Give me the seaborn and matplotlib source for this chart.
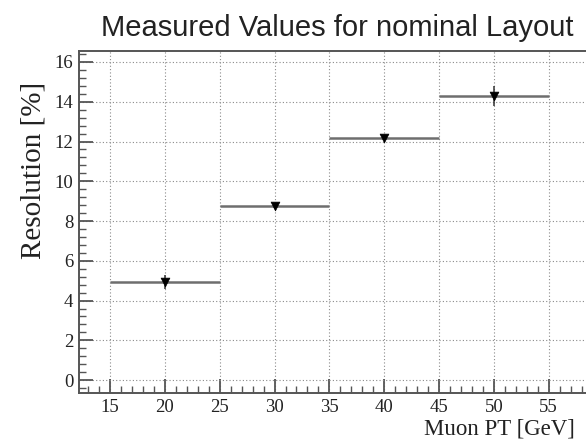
import numpy as np
import pandas as pd
import matplotlib
matplotlib.use("Agg")
import matplotlib.pyplot as plt
import seaborn as sns
from matplotlib.ticker import MultipleLocator

# Muon PT bins [GeV] and measured resolution [%]
bin_low = [15, 25, 35, 45]
bin_high = [25, 35, 45, 55]
bin_center = [20, 30, 40, 50]
resolution = [4.95, 8.75, 12.2, 14.3]
res_error = [0.35, 0.15, 0.12, 0.5]

df = pd.DataFrame({"pt": bin_center, "res": resolution, "err": res_error,
                   "lo": bin_low, "hi": bin_high})

sns.set_theme(style="white")
plt.rcParams["font.family"] = ["Liberation Serif", "DejaVu Serif"]

fig = plt.figure(figsize=(5.86, 4.40), dpi=100)
ax = fig.add_axes([0.1348, 0.1068, 0.8652, 0.7772])

# bin widths as horizontal segments
ax.hlines(df["res"], df["lo"], df["hi"], color="#6e6e6e", lw=1.8, zorder=3)
# statistical errors
ax.errorbar(df["pt"], df["res"], yerr=df["err"], fmt="none",
            ecolor="#333333", elinewidth=1.1, capsize=0, zorder=4)
sns.scatterplot(data=df, x="pt", y="res", marker="v", color="black",
                s=40, edgecolor="black", linewidth=0.5, ax=ax, zorder=5,
                legend=False)

ax.set_xlim(12.17, 58.4)
ax.set_ylim(-0.65, 16.55)

ax.xaxis.set_major_locator(MultipleLocator(5))
ax.xaxis.set_minor_locator(MultipleLocator(1))
ax.yaxis.set_major_locator(MultipleLocator(2))
ax.yaxis.set_minor_locator(MultipleLocator(0.4))

ax.grid(True, which="major", color="#8a8a8a", linestyle=(0, (1, 2)), lw=0.8)
ax.set_axisbelow(True)

ax.tick_params(which="major", direction="in", length=10, width=1.3,
               color="#555555", labelsize=13.5, labelcolor="#222222",
               bottom=True, left=True, top=False, right=False, pad=4)
ax.tick_params(which="minor", direction="in", length=5, width=1.0,
               color="#555555", bottom=True, left=True, top=False, right=False)

for side in ["left", "bottom", "top"]:
    ax.spines[side].set_color("#555555")
    ax.spines[side].set_linewidth(1.4)
ax.spines["right"].set_visible(False)

ax.set_xlabel("Muon PT [GeV]", fontsize=16.5, color="#222222")
ax.xaxis.set_label_coords(0.978, -0.106)
ax.xaxis.label.set_ha("right")
ax.xaxis.label.set_va("center")

ax.set_ylabel("Resolution [%]", fontsize=21, color="#222222")
ax.yaxis.set_label_coords(-0.09, 0.65)
ax.yaxis.label.set_va("center")

fig.text(0.575, 0.937, "Measured Values for nominal Layout",
         family=["Liberation Sans", "DejaVu Sans"], fontsize=21,
         color="#222222", ha="center", va="center")

fig.savefig("out.png", dpi=100, facecolor="white")
